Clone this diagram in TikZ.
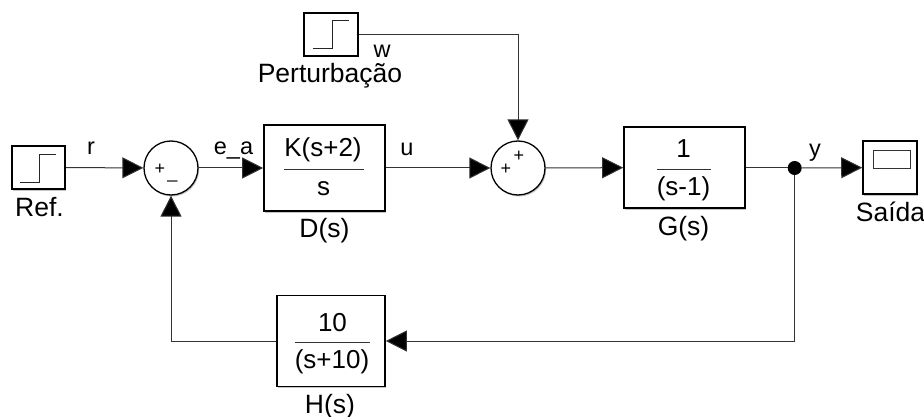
\documentclass[tikz,border=0pt]{standalone}
\usepackage{fontspec}
\setmainfont{Liberation Sans}
\usetikzlibrary{arrows.meta,shadows}
\tikzset{
  x=1pt,y=-1pt,
  softshadow/.style={drop shadow={shadow xshift=1.2pt,shadow yshift=-1.5pt,fill=black!45,opacity=0.5}},
  blockbox/.style={draw=black,line width=1.6pt,fill=white,inner sep=0pt,align=center,softshadow},
  sumnode/.style={circle,draw=black,line width=1.3pt,fill=white,minimum size=54pt,inner sep=0pt,softshadow},
  conn/.style={draw=black!80,line width=1pt,-{Triangle[length=21pt,width=21pt,fill=black]}},
  wire/.style={draw=black!80,line width=1pt},
  lbl/.style={font=\fontsize{26.5}{28}\selectfont,inner sep=0pt,anchor=base},
  sig/.style={font=\fontsize{23.5}{26}\selectfont,inner sep=0pt,anchor=base},
  frac/.style={font=\fontsize{26}{30}\selectfont,inner sep=0pt,anchor=base},
  sgn/.style={font=\fontsize{18}{18}\selectfont,inner sep=0pt},
  stepglyph/.style={line width=0.9pt,draw=black!85},
  fracbar/.style={line width=0.8pt,draw=black!80},
}
\begin{document}
\begin{tikzpicture}
\useasboundingbox (0,0) rectangle (924,417);
\node[blockbox,minimum width=53pt,minimum height=43pt] (ref) at (38.5,167.5) {};
\draw[stepglyph] (20,182) -- (39,182) -- (39,154) -- (56,154);
\node[blockbox,minimum width=54pt,minimum height=43pt] (pert) at (331,34.5) {};
\draw[stepglyph] (313,48) -- (332,48) -- (332,20) -- (349,20);
\node[sumnode] (s1) at (171,168) {};
\node[sumnode] (s2) at (518,168) {};
\node[blockbox,minimum width=121pt,minimum height=86pt] (D) at (324.5,168) {};
\node[blockbox,minimum width=121pt,minimum height=81pt] (G) at (684.5,167.5) {};
\node[blockbox,minimum width=108pt,minimum height=91pt] (H) at (331,341) {};
\node[blockbox,minimum width=54pt,minimum height=53pt] (scope) at (890,167.5) {};
\draw[line width=1pt,draw=black!80] (873,150.5) rectangle (910,169);
\node[circle,fill=black,minimum size=14pt,inner sep=0pt] (j) at (794.7,168) {};
% fractions
\draw[fracbar] (284,169) -- (364,169);
\draw[fracbar] (657,169) -- (711,169);
\draw[fracbar] (295,342) -- (370,342);
\node[frac] (dn) at (323,157) {K(s+2)};
\node[frac] (dd) at (323.5,195) {s};
\node[frac] (gn) at (683.5,158) {1};
\node[frac] (gd) at (683.5,195) {(s-1)};
\node[frac] (hn) at (332.5,331) {10};
\node[frac] (hd) at (332,368) {(s+10)};
% signs
\node[sgn] (p1) at (160,169) {+};
\node[sgn] (m1) at (172.5,180) {\_};
\node[sgn] (p2) at (506,169) {+};
\node[sgn] (p3) at (519,156) {+};
% connectors
\draw[conn] (ref) -- (s1);
\draw[conn] (s1) -- (D);
\draw[conn] (D) -- (s2);
\draw[conn] (s2) -- (G);
\draw[wire] (G.east |- j) -- (j);
\draw[conn] (j) -- (scope);
\draw[conn] (pert.east) -| (s2.north);
\draw[conn] (j) |- (H.east);
\draw[conn] (H.west) -| (s1.south);
% labels
\node[sig] at (91,155) {r};
\node[sig] at (233.5,155) {e\_a};
\node[sig] at (407,156) {u};
\node[sig] at (815,157) {y};
\node[sig] at (382,58) {w};
\node[lbl] at (330,83) {Perturbação};
\node[lbl] at (39.5,216) {Ref.};
\node[lbl] at (324.5,237) {D(s)};
\node[lbl] at (683.5,235) {G(s)};
\node[lbl] at (330,413) {H(s)};
\node[lbl] at (890.5,221) {Saída};
\end{tikzpicture}
\end{document}
